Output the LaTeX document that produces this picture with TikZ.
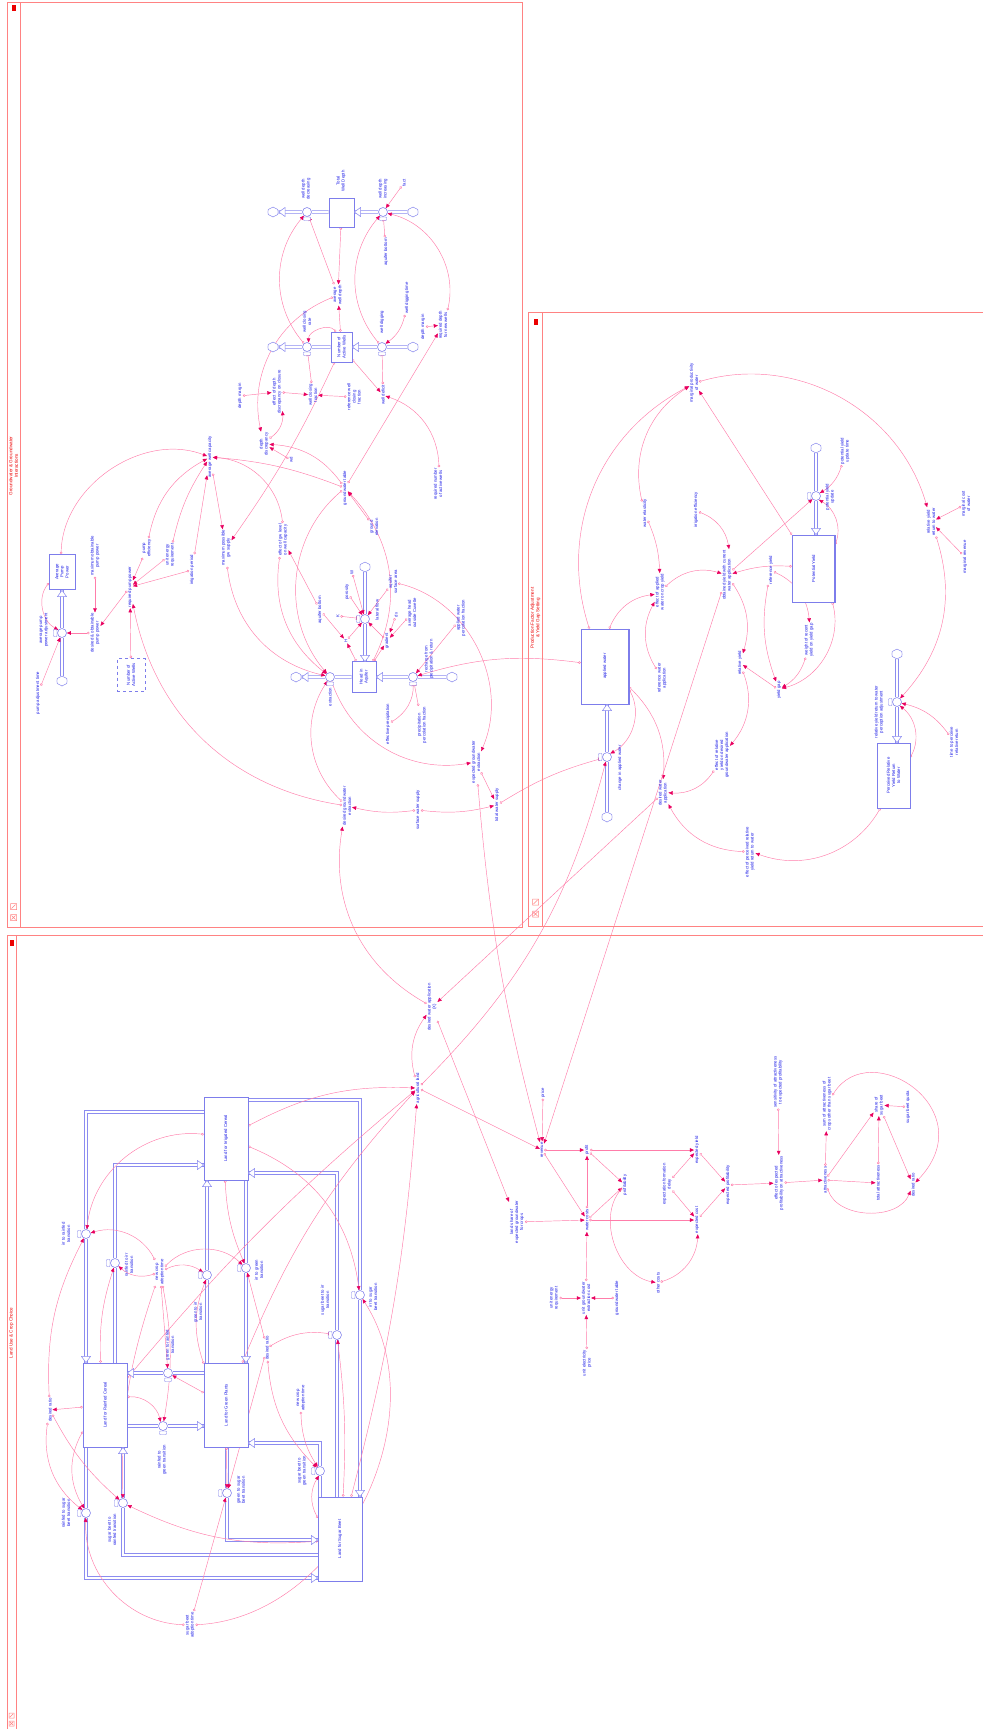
\documentclass[tikz,border=0pt]{standalone}
\usepackage{fontspec}
\setmainfont{Liberation Sans}
\usetikzlibrary{arrows.meta,shapes.symbols,calc}
\pgfdeclarelayer{bg}
\pgfsetlayers{bg,main}
\definecolor{lblblue}{RGB}{25,25,230}
\definecolor{stkblue}{RGB}{125,125,235}
\definecolor{pipeblue}{RGB}{140,140,240}
\definecolor{cnpink}{RGB}{255,125,170}
\definecolor{arrred}{RGB}{232,0,95}
\definecolor{secred}{RGB}{255,130,130}
\definecolor{titred}{RGB}{235,0,0}
\newcommand\lblfont{\fontsize{4.3}{5.1}\selectfont}
\newcommand\ttlfont{\fontsize{4.6}{5.4}\selectfont}
\tikzset{
  lbl/.style={font=\lblfont,text=lblblue,rotate=90,align=center,inner sep=0.7pt},
  ttl/.style={font=\ttlfont,text=titred,rotate=90,align=center,inner sep=0.5pt},
  stk/.style={draw=stkblue,line width=0.6pt,fill=white,inner sep=0pt,rectangle},
  vlv/.style={circle,draw=stkblue,fill=white,line width=0.55pt,minimum size=9pt,inner sep=0pt},
  vhandle/.style={draw=stkblue,fill=white,line width=0.45pt,rounded corners=0.8pt},
  cld/.style={cloud,cloud puffs=6,cloud puff arc=110,aspect=1,draw=stkblue,fill=white,line width=0.45pt,minimum width=11pt,minimum height=10pt,inner sep=0pt},
  pipe/.style={draw=pipeblue,line width=0.7pt,double=white,double distance=1.8pt},
  cn/.style={draw=cnpink,line width=0.45pt,{Circle[open,length=2.6pt,width=2.6pt]}-{Triangle[length=4.2pt,width=3.6pt,color=arrred]}},
  secframe/.style={draw=secred,line width=0.8pt},
}
\newcommand\valveH[3]{\draw[vhandle] (#2-3.5,#3+5) rectangle (#2+3.5,#3+8.5);\node[vlv] (#1) at (#2,#3) {};}
\newcommand\valveV[3]{\draw[vhandle] (#2-8.5,#3-3.5) rectangle (#2-5,#3+3.5);\node[vlv] (#1) at (#2,#3) {};}
\newcommand\ptip[3]{\begin{scope}[shift={(#1,#2)},rotate=#3]\draw[draw=pipeblue,fill=white,line width=0.55pt,line join=round] (3.2,0) -- (-3.2,4.6) -- (-3.2,-4.6) -- cycle;\end{scope}}
\begin{document}
\begin{tikzpicture}[x=1pt,y=-1pt]
\useasboundingbox (0,0) rectangle (984,1729);
% ---------------- sector frames
\draw[secframe] (7,2) rectangle (522,927);
\draw[secframe] (20,2) -- (20,927);
\draw[secframe] (528,312) -- (983,312);
\draw[secframe] (528,312) -- (528,926) -- (983,926);
\draw[secframe] (542,312) -- (542,926);
\draw[secframe] (7,1729) -- (7,935) -- (983,935);
\draw[secframe] (16,935) -- (16,1729);
\node[ttl] (ttlgw) at (13.5,466) {Groundwater \& Groundwater\\Interactions};
\node[ttl] (ttlpf) at (535.5,618) {Production Factor Adjustment\\\& Yield Gap Setting};
\node[ttl] (ttllu) at (11.5,1333) {Land Use \& Crop Choice};
\fill[titred] (11.5,5) rectangle (15.5,10.5);
\fill[titred] (533.5,319) rectangle (537.5,324.5);
\fill[titred] (9.5,940) rectangle (13.5,945.5);
\draw[secred,line width=0.5pt] (10.5,903.5) rectangle (16.5,909.5) (11.5,908.5) -- (15.5,904.5);
\draw[secred,line width=0.5pt] (10.5,914.5) rectangle (16.5,920.5) (11.5,915.5) -- (15.5,919.5) (11.5,919.5) -- (15.5,915.5);
\draw[secred,line width=0.5pt] (532.5,899) rectangle (538.5,905) (533.5,904) -- (537.5,900);
\draw[secred,line width=0.5pt] (532.5,911) rectangle (538.5,917) (533.5,912) -- (537.5,916) (533.5,916) -- (537.5,912);
\draw[secred,line width=0.5pt] (9,1713) rectangle (14,1718) (10,1717) -- (13,1714);
\draw[secred,line width=0.5pt] (9,1721) rectangle (14,1726) (10,1722) -- (13,1725) (10,1725) -- (13,1722);

% ================= GROUNDWATER
\node[lbl] (twdT) at (341,181) {Total\\Well Depth};
\node[stk,minimum width=25pt,minimum height=29pt] (twd) at (341.5,212.5) {};
\node[cld] (c1) at (273,212) {};
\node[cld] (c2) at (413,212) {};
\valveH{wdd}{307}{212}
\valveH{wdi}{383}{212}
\node[lbl] (wddT) at (306,189) {well depth\\decreasing};
\node[lbl] (wdiT) at (383,189) {well depth\\increasing};
\node[lbl] (fact) at (404,183) {fact};
\node[lbl] (aqb1) at (386,252) {aquifer bottom};
\node[lbl] (awd) at (338,295) {average\\well depth};
\node[stk,minimum width=21pt,minimum height=30pt] (naw) at (341.5,347) {};
\node[lbl] (nawT) at (341.5,347) {Number of\\Active Wells};
\node[cld] (c3) at (273,347) {};
\node[cld] (c4) at (413,347) {};
\valveH{wcr}{307}{347}
\valveH{wdg}{382}{347}
\node[lbl] (wcrT) at (307,322) {well closing\\rate};
\node[lbl] (wdgT) at (382,322) {well digging};
\node[lbl] (wdt) at (407,298) {well digging time};
\node[lbl] (dm1) at (423,327) {depth margin};
\node[lbl] (rdnw) at (443,325) {required depth\\for new wells};
\node[lbl] (wdef) at (383,395) {well deficit};
\node[lbl] (wcf) at (313,395) {well closing\\fraction};
\node[lbl] (rwcf) at (354,397) {reference well\\closing\\fraction};
\node[lbl] (eddc) at (277,392) {effect of depth\\discrepancy on closure};
\node[lbl] (dm2) at (240,396) {depth margin};
\node[lbl] (ddisc) at (264,444) {depth\\discrepancy};
\node[lbl] (wdx) at (291,460) {wd};
\node[lbl] (gwt) at (345,488) {groundwater table};
\node[lbl] (gel) at (374,527) {ground\\elevation};
\node[lbl] (rnaw) at (438,484) {required number\\of active wells};
\node[lbl] (egwc) at (283,540) {effect of gw level\\on well capacity};
\node[lbl] (awc) at (210,457) {average well capacity};
\node[lbl] (mpgs) at (226,548) {maximum possible\\gw supply};
\node[lbl] (pe) at (147,548) {pump\\efficiency};
\node[lbl] (uer) at (170,555) {unit energy\\requirement};
\node[lbl] (ip) at (192,570) {irrigation period};
\node[stk,minimum width=26pt,minimum height=35pt] (app) at (62,572) {};
\node[lbl] (appT) at (62,572) {Average\\Pump\\Power};
\node[cld] (c5) at (62,681) {};
\valveV{apa}{62}{633}
\node[lbl] (apaT) at (44,630) {average pump\\power adjustment};
\node[lbl] (pat) at (38,693) {pump adjustment time};
\node[lbl] (mopp) at (95,556) {maximum obtainable\\pump power};
\node[lbl] (dopp) at (95,633) {desired \& obtainable\\pump power};
\node[lbl] (rpp) at (130,587) {required pump power};
\node[stk,dashed,minimum width=28pt,minimum height=33pt] (naw2) at (131,675) {};
\node[lbl] (naw2T) at (131,675) {Number of\\Active Wells};
\node[stk,minimum width=24pt,minimum height=31pt] (hia) at (364,677) {};
\node[lbl] (hiaT) at (364,677) {Head in\\Aquifer};
\node[cld] (c6) at (365,567) {};
\valveV{lf}{365}{619}
\node[lbl] (lfT) at (377,610) {lateral flow};
\node[lbl] (kk) at (338,616) {K};
\node[lbl] (por) at (347,592) {porosity};
\node[lbl] (ww) at (352,572) {W};
\node[lbl] (asa) at (393,582) {aquifer\\surface area};
\node[lbl] (dx) at (396,615) {dx};
\node[lbl] (grad) at (387,641) {gradient};
\node[lbl] (aho) at (412,613) {average head\\outside Cuvette};
\node[lbl] (aqb2) at (320,610) {aquifer bottom};
\node[lbl] (hh) at (346,641) {H};
\node[cld] (c7) at (296,677) {};
\valveH{ext}{330}{677}
\node[lbl] (extT) at (330,697) {extraction};
\node[cld] (c8) at (452,677) {};
\valveH{rch}{413}{677}
\node[lbl] (rchT) at (429,659) {recharge from\\precipitation \& return};
\node[lbl] (epr) at (388,724) {effective precipitation};
\node[lbl] (ppf) at (422,725) {precipitation\\percolation fraction};
\node[lbl] (awpf) at (461,618) {applied water\\percolation fraction};
\node[lbl] (egwe) at (476,762) {expected groundwater\\extraction};
\node[lbl] (tws) at (497,805) {total water supply};
\node[lbl] (sws) at (418,810) {surface water supply};
\node[lbl] (dgwe) at (347,806) {desired groundwater\\extraction};

% ================= PRODUCTION
\node[stk,minimum width=48pt,minimum height=75pt] (aw) at (605,666.5) {};
\draw[stkblue,line width=1.6pt] ([xshift=-0.8pt]aw.north east) -- ([xshift=-0.8pt]aw.south east);
\node[lbl] (awT) at (605,666) {applied water};
\node[cld] (c9) at (607,817) {};
\valveV{caw}{607}{757}
\node[lbl] (cawT) at (620,768) {change in applied water};
\node[lbl] (dwa) at (663,793) {desired water\\application};
\node[lbl] (eryd) at (722,755) {effect of relative\\yield on desired\\groundwater application};
\node[lbl] (ry) at (740,663) {relative yield};
\node[lbl] (eprr) at (750,852) {effect of perceived relative\\yield return to water};
\node[lbl] (rwa) at (662,678) {reference water\\application};
\node[lbl] (eaw) at (660,592) {effect of applied\\water on crop yield};
\node[lbl] (we) at (645,513) {water elasticity};
\node[lbl] (mpw) at (694,383) {marginal productivity\\of water};
\node[lbl] (ie) at (696,510) {irrigation efficiency};
\node[lbl] (oy) at (727,575) {obtained yield with current\\water application};
\node[stk,minimum width=43pt,minimum height=67pt] (py) at (813.5,568.5) {};
\draw[stkblue,line width=1.6pt] ([xshift=-0.8pt]py.north east) -- ([xshift=-0.8pt]py.south east);
\node[lbl] (pyT) at (813.5,568.5) {Potential Yield};
\node[cld] (c10) at (816,448) {};
\valveV{pyu}{816}{496}
\node[lbl] (pyuT) at (830,497) {potential yield\\update};
\node[lbl] (pyut) at (845,451) {potential yield\\update time};
\node[lbl] (yg) at (779,690) {yield gap};
\node[lbl] (ryd) at (771,570) {reference yield};
\node[lbl] (wgy) at (809,640) {weight of recent\\yield on yield gap};
\node[stk,minimum width=33pt,minimum height=65pt] (prr) at (893.5,775.5) {};
\node[lbl] (prrT) at (893.5,775.5) {Perceived Relative\\Yield Return\\to Water};
\node[cld] (c11) at (897,654) {};
\valveV{rrpa}{897}{702}
\node[lbl] (rrpaT) at (879,712) {relative yield return to water\\perception adjustment};
\node[lbl] (tpr) at (954,742) {time to perceive\\relative return};
\node[lbl] (ryrw) at (931,522) {relative yield\\return to water};
\node[lbl] (mcw) at (966,504) {marginal cost\\of water};
\node[lbl] (mrev) at (965,557) {marginal revenue};

% ================= LAND USE
\node[stk,minimum width=44pt,minimum height=83pt] (lic) at (226,1138.5) {};
\node[lbl] (licT) at (226,1138.5) {Land for Irrigated Cereal};
\node[stk,minimum width=44pt,minimum height=84pt] (lrc) at (105,1405) {};
\node[lbl] (lrcT) at (105,1405) {Land for Rainfed Cereal};
\node[stk,minimum width=44pt,minimum height=84pt] (lgp) at (226,1405) {};
\node[lbl] (lgpT) at (226,1405) {Land for Green Plants};
\node[stk,minimum width=44pt,minimum height=84pt] (lsb) at (340,1539) {};
\node[lbl] (lsbT) at (340,1539) {Land for Sugar Beet};
\valveV{irtr}{86}{1234}
\valveV{rtir}{115}{1263}
\valveV{gtir}{207}{1275}
\valveV{irtg}{246}{1268}
\valveV{irts}{360}{1295}
\valveV{stir}{337}{1335}
\valveH{gtr}{168}{1373}
\valveH{rtg}{163}{1426}
\valveV{rts}{86}{1513}
\valveV{str}{123}{1503}
\valveV{gts}{227}{1493}
\valveV{stg}{320}{1471}
\node[lbl] (irtrT) at (66,1234) {irr to rainfed\\transition};
\node[lbl] (rtirT) at (129,1265) {rainfed to irr\\transition};
\node[lbl] (gtirT) at (198,1312) {green to irr\\transition};
\node[lbl] (irtgT) at (259,1270) {irr to green\\transition};
\node[lbl] (irtsT) at (373,1297) {irr to sugar\\beet transition};
\node[lbl] (stirT) at (325,1300) {sugar beet to irr\\transition};
\node[lbl] (gtrT) at (170,1345) {green to rainfed\\transition};
\node[lbl] (rtgT) at (162,1460) {rainfed to\\green transition};
\node[lbl] (rtsT) at (66,1513) {rainfed to sugar\\beet transition};
\node[lbl] (strT) at (112,1530) {sugar beet to\\rainfed transition};
\node[lbl] (gtsT) at (241,1490) {green to sugar\\beet transition};
\node[lbl] (stgT) at (302,1471) {sugar beet to\\green transition};
\node[lbl] (ncat) at (160,1272) {new crop\\adoption time};
\node[lbl] (dr1) at (50,1410) {desired ratio};
\node[lbl] (dr2) at (267,1348) {desired ratio};
\node[lbl] (ncat2) at (301,1398) {new crop\\adoption time};
\node[lbl] (sbat) at (190,1625) {sugar beet\\adoption time};
\node[lbl] (agl) at (418,1088) {agricultural land};
\node[lbl] (dwax) at (432,1007) {desired water application\\(X)};
\node[lbl] (price) at (543,1093) {price};
\node[lbl] (rev) at (542,1150) {revenue};
\node[lbl] (prf) at (587,1150) {profit};
\node[lbl] (prof) at (625,1185) {profitability};
\node[lbl] (wc) at (587,1220) {water costs};
\node[lbl] (lsegw) at (517,1222) {land share of\\expected groundwater\\for crops};
\node[lbl] (ugec) at (586,1298) {unit groundwater\\extraction cost};
\node[lbl] (uer2) at (554,1298) {unit energy\\requirement};
\node[lbl] (gwt2) at (617,1298) {groundwater table};
\node[lbl] (uep) at (587,1363) {unit electricity\\price};
\node[lbl] (efd) at (667,1184) {expectation formation\\delay};
\node[lbl] (ey) at (697,1150) {expected yield};
\node[lbl] (ec) at (697,1220) {expected cost};
\node[lbl] (oc) at (658,1283) {other costs};
\node[lbl] (ep) at (728,1185) {expected profitability};
\node[lbl] (eepa) at (779,1183) {effect of expected\\profitability on attractiveness};
\node[lbl] (sae) at (778,1082) {sensitivity of attractiveness\\to expected profitability};
\node[lbl] (att) at (825,1180) {attractiveness};
\node[lbl] (sac) at (827,1104) {sum of attractiveness of\\crops other than sugar beet};
\node[lbl] (ssb) at (879,1105) {share of\\sugar beet};
\node[lbl] (tat) at (878,1183) {total attractiveness};
\node[lbl] (dr3) at (913,1185) {desired ratio};
\node[lbl] (sbq) at (908,1107) {sugar beet quota};

% pipe corner coordinates
\coordinate (pa0) at (204,1112); \coordinate (pa1) at (86,1112);
\coordinate (pb1) at (115,1165);
\coordinate (pe0) at (248,1100); \coordinate (pe1) at (360,1100);
\coordinate (pf1) at (337,1173);
\coordinate (pi1) at (86,1578);
\coordinate (pj1) at (123,1555);
\coordinate (pk1) at (227,1540);
\coordinate (pl1) at (320,1443);

\begin{pgfonlayer}{bg}
% ---- pipes
\draw[pipe] (twd.west |- wdd) -- (wdd) -- (c1);
\draw[pipe] (c2) -- (wdi) -- (twd.east |- wdi);
\draw[pipe] (naw.west |- wcr) -- (wcr) -- (c3);
\draw[pipe] (c4) -- (wdg) -- (naw.east |- wdg);
\draw[pipe] (c5) -- (apa) -- (apa |- app.south);
\draw[pipe] (c6) -- (lf) -- (lf |- hia.north);
\draw[pipe] (hia.west |- ext) -- (ext) -- (c7);
\draw[pipe] (c8) -- (rch) -- (hia.east |- rch);
\draw[pipe] (c9) -- (caw) -- (caw |- aw.south);
\draw[pipe] (c10) -- (pyu) -- (pyu |- py.north);
\draw[pipe] (c11) -- (rrpa) -- (rrpa |- prr.north);
\draw[pipe] (pa0) -- (pa1) -- (irtr) -- (irtr |- lrc.north);
\draw[pipe] (rtir |- lrc.north) -- (rtir) -- (pb1) -- (lic.west |- pb1);
\draw[pipe] (gtir |- lgp.north) -- (gtir) -- (gtir |- lic.south);
\draw[pipe] (irtg |- lic.south) -- (irtg) -- (irtg |- lgp.north);
\draw[pipe] (pe0) -- (pe1) -- (irts) -- (irts |- lsb.north);
\draw[pipe] (stir |- lsb.north) -- (stir) -- (pf1) -- (lic.east |- pf1);
\draw[pipe] (lgp.west |- gtr) -- (gtr) -- (lrc.east |- gtr);
\draw[pipe] (lrc.east |- rtg) -- (rtg) -- (lgp.west |- rtg);
\draw[pipe] (rts |- lrc.south) -- (rts) -- (pi1) -- (lsb.west |- pi1);
\draw[pipe] (lsb.west |- pj1) -- (pj1) -- (str) -- (str |- lrc.south);
\draw[pipe] (gts |- lgp.south) -- (gts) -- (pk1) -- (lsb.west |- pk1);
\draw[pipe] (stg |- lsb.north) -- (stg) -- (pl1) -- (lgp.east |- pl1);

% ---- connectors: groundwater
\draw[cn] (fact) -- (wdi);
\draw[cn] (aqb1) -- (wdi);
\draw[cn] (twd) -- (awd);
\draw[cn] (awd) -- (wdd);
\draw[cn] (naw) -- (awd);
\draw[cn] (wdt) to[bend left=20] (wdg);
\draw[cn] (dm1) -- (rdnw);
\draw[cn] (rdnw) to[bend right=45] (wdi);
\draw[cn] (gwt) -- (rdnw);
\draw[cn] (wdef) -- (wdg);
\draw[cn] (naw) -- (wdef);
\draw[cn] (rnaw) to[bend right=35] (wdef);
\draw[cn] (wcf) -- (wcr);
\draw[cn] (rwcf) -- (wcf);
\draw[cn] (eddc) -- (wcf);
\draw[cn] (dm2) -- (eddc);
\draw[cn] (ddisc) to[bend right=30] (eddc);
\draw[cn] (gwt) to[bend right=25] (ddisc);
\draw[cn] (wdx) -- (ddisc);
\draw[cn] (gel) -- (gwt);
\draw[cn] (naw) to[bend right=70] (wcr);
\draw[cn] (wcr) to[bend left=40] (wdd);
\draw[cn] (wdg) to[bend left=40] (wdi);
\draw[cn] (awd) to[bend right=40] (ddisc);
\draw[cn] (naw) to[bend left=5] (mpgs);
\draw[cn] (awc) -- (mpgs);
\draw[cn] (app) to[bend left=55] (awc);
\draw[cn] (pe) to[bend left=25] (awc);
\draw[cn] (uer) to[bend left=10] (awc);
\draw[cn] (ip) -- (awc);
\draw[cn] (gwt) to[bend right=8] (awc);
\draw[cn] (mpgs) to[bend right=35] (ext);
\draw[cn] (pe) -- (rpp);
\draw[cn] (uer) -- (rpp);
\draw[cn] (ip) -- (rpp);
\draw[cn] (naw2) -- (rpp);
\draw[cn] (rpp) -- (dopp);
\draw[cn] (mopp) -- (dopp);
\draw[cn] (dopp) -- (apa);
\draw[cn] (pat) -- (apa);
\draw[cn] (app) to[bend right=50] (apa);
\draw[cn] (dgwe) to[bend left=35] (rpp);
\draw[cn] (kk) -- (lf);
\draw[cn] (por) -- (lf);
\draw[cn] (ww) -- (lf);
\draw[cn] (asa) -- (lf);
\draw[cn] (grad) -- (lf);
\draw[cn] (hh) -- (lf);
\draw[cn] (dx) -- (grad);
\draw[cn] (aho) -- (grad);
\draw[cn] (hia) -- (hh);
\draw[cn] (hia) -- (grad);
\draw[cn] (aqb2) -- (hh);
\draw[cn] (aqb2) -- (egwc);
\draw[cn] (epr) to[bend right=30] (rch);
\draw[cn] (ppf) -- (rch);
\draw[cn] (awpf) -- (rch);
\draw[cn] (aw) to[bend right=12] (rch);
\draw[cn] (asa) to[bend left=50] (egwe);
\draw[cn] (ext) to[bend right=40] (egwe);
\draw[cn] (egwe) -- (tws);
\draw[cn] (sws) to[bend left=10] (dgwe);
\draw[cn] (sws) to[bend right=10] (tws);
\draw[cn] (dgwe) to[bend left=40] (ext);
\draw[cn] (hia) to[bend right=35] (gwt);
\draw[cn] (egwc) to[bend right=40] (awc);
\draw[cn] (gwt) to[bend right=45] (ext);
\draw[cn] (egwc) to[bend right=30] (ext);
% ---- connectors: production
\draw[cn] (aw) to[bend left=40] (mpw);
\draw[cn] (aw) to[bend left=30] (eaw);
\draw[cn] (aw) to[bend left=25] (dwa);
\draw[cn] (aw) to[bend left=45] (caw);
\draw[cn] (we) to[bend left=10] (eaw);
\draw[cn] (we) to[bend left=35] (mpw);
\draw[cn] (rwa) to[bend left=30] (eaw);
\draw[cn] (eaw) to[bend left=30] (oy);
\draw[cn] (ie) to[bend left=30] (oy);
\draw[cn] (py) to[bend right=10] (oy);
\draw[cn] (oy) to[bend left=25] (ry);
\draw[cn] (oy) -- (pyu);
\draw[cn] (ry) to[bend left=30] (eryd);
\draw[cn] (eryd) to[bend left=30] (dwa);
\draw[cn] (eprr) to[bend left=30] (dwa);
\draw[cn] (py) -- (mpw);
\draw[cn] (mpw) to[bend left=45] (ryrw);
\draw[cn] (mcw) -- (ryrw);
\draw[cn] (mrev) -- (ryrw);
\draw[cn] (ryrw) to[bend left=30] (rrpa);
\draw[cn] (tpr) to[bend right=20] (rrpa);
\draw[cn] (prr) to[bend right=40] (rrpa);
\draw[cn] (prr) to[bend left=40] (eprr);
\draw[cn] (pyut) to[bend left=20] (pyu);
\draw[cn] (py) to[bend right=40] (pyu);
\draw[cn] (py) to[bend left=45] (yg);
\draw[cn] (ryd) to[bend right=15] (yg);
\draw[cn] (ryd) to[bend left=30] (wgy);
\draw[cn] (wgy) to[bend left=20] (yg);
\draw[cn] (yg) -- (ry);
% ---- cross-sector
\draw[cn] (tws) to[bend left=8] (caw);
\draw[cn] (agl) to[bend right=15] (caw);
\draw[cn] (dwa) -- (dwax);
\draw[cn] (oy) -- (rev);
\draw[cn] (egwe) to[bend right=5] (rev);
\draw[cn] (dwax) to[bend left=35] (dgwe);
% ---- connectors: land use
\draw[cn] (dwax) -- (lsegw);
\draw[cn] (agl) to[bend left=25] (dwax);
\draw[cn] (lic) to[bend left=15] (agl);
\draw[cn] (lrc) to[bend left=5] (agl);
\draw[cn] (lgp) to[bend left=10] (agl);
\draw[cn] (lsb) to[bend right=5] (agl);
\draw[cn] (lic) to[bend right=45] (irtr);
\draw[cn] (ncat) to[bend right=40] (irtr);
\draw[cn] (ncat) to[bend left=30] (rtir);
\draw[cn] (ncat) to[bend left=30] (gtir);
\draw[cn] (ncat) to[bend left=45] (irtg);
\draw[cn] (lic) to[bend right=10] (irtg);
\draw[cn] (lgp) to[bend left=20] (gtir);
\draw[cn] (lrc) to[bend left=10] (rtir);
\draw[cn] (dr1) to[bend left=15] (irtr);
\draw[cn] (dr1) to[bend right=30] (rts);
\draw[cn] (dr1) to[bend right=10] (str);
\draw[cn] (lrc) -- (dr1);
\draw[cn] (lrc) to[bend right=30] (rts);
\draw[cn] (ncat) to[bend left=10] (rtg);
\draw[cn] (ncat) -- (gtr);
\draw[cn] (ncat) to[bend right=10] (str);
\draw[cn] (lgp) -- (gtr);
\draw[cn] (lrc) to[bend left=40] (rtg);
\draw[cn] (lgp) -- (gts);
\draw[cn] (sbat) -- (gts);
\draw[cn] (sbat) to[bend left=45] (rts);
\draw[cn] (dr2) to[bend right=20] (stg);
\draw[cn] (dr2) -- (gts);
\draw[cn] (dr2) -- (irtg);
\draw[cn] (ncat2) to[bend right=15] (stg);
\draw[cn] (lsb) to[bend left=30] (stg);
\draw[cn] (lsb) to[bend left=15] (str);
\draw[cn] (lsb) to[bend right=5] (stir);
\draw[cn] (lic) to[bend left=30] (irts);
\draw[cn] (dr2) to[bend left=20] (stir);
\draw[cn] (sbat) to[bend right=60] (irts);
\draw[cn] (price) -- (rev);
\draw[cn] (agl) -- (rev);
\draw[cn] (rev) -- (prf);
\draw[cn] (rev) -- (wc);
\draw[cn] (wc) -- (prf);
\draw[cn] (prf) -- (prof);
\draw[cn] (wc) -- (prof);
\draw[cn] (ugec) -- (wc);
\draw[cn] (uer2) -- (ugec);
\draw[cn] (gwt2) -- (ugec);
\draw[cn] (uep) -- (ugec);
\draw[cn] (lsegw) -- (wc);
\draw[cn] (prf) -- (ey);
\draw[cn] (wc) -- (ec);
\draw[cn] (efd) -- (ey);
\draw[cn] (efd) -- (ec);
\draw[cn] (oc) to[bend right=35] (ec);
\draw[cn] (prof) to[bend right=60] (oc);
\draw[cn] (ey) -- (ep);
\draw[cn] (ec) -- (ep);
\draw[cn] (ep) -- (eepa);
\draw[cn] (sae) -- (eepa);
\draw[cn] (eepa) -- (att);
\draw[cn] (att) -- (sac);
\draw[cn] (att) -- (ssb);
\draw[cn] (att) -- (tat);
\draw[cn] (att) to[bend right=70] (dr3);
\draw[cn] (tat) -- (ssb);
\draw[cn] (sbq) -- (ssb);
\draw[cn] (ssb) -- (dr3);
\draw[cn] (sac) .. controls (870,1035) and (985,1110) .. (dr3);
\end{pgfonlayer}

% ---- pipe tips
\ptip{282}{212}{180}
\ptip{357.5}{212}{180}
\ptip{282}{347}{180}
\ptip{355.5}{347}{180}
\ptip{62}{593.5}{90}
\ptip{365}{658.5}{270}
\ptip{305}{677}{180}
\ptip{379.5}{677}{180}
\ptip{607}{707.5}{90}
\ptip{816}{531.5}{270}
\ptip{897}{739.5}{270}
\ptip{86}{1359.5}{270}
\ptip{200.5}{1165}{0}
\ptip{207}{1183.5}{90}
\ptip{246}{1359.5}{270}
\ptip{360}{1493.5}{270}
\ptip{251.5}{1173}{180}
\ptip{130.5}{1373}{180}
\ptip{200.5}{1426}{0}
\ptip{314.5}{1578}{0}
\ptip{123}{1450.5}{90}
\ptip{314.5}{1540}{0}
\ptip{251.5}{1443}{180}
\end{tikzpicture}
\end{document}
